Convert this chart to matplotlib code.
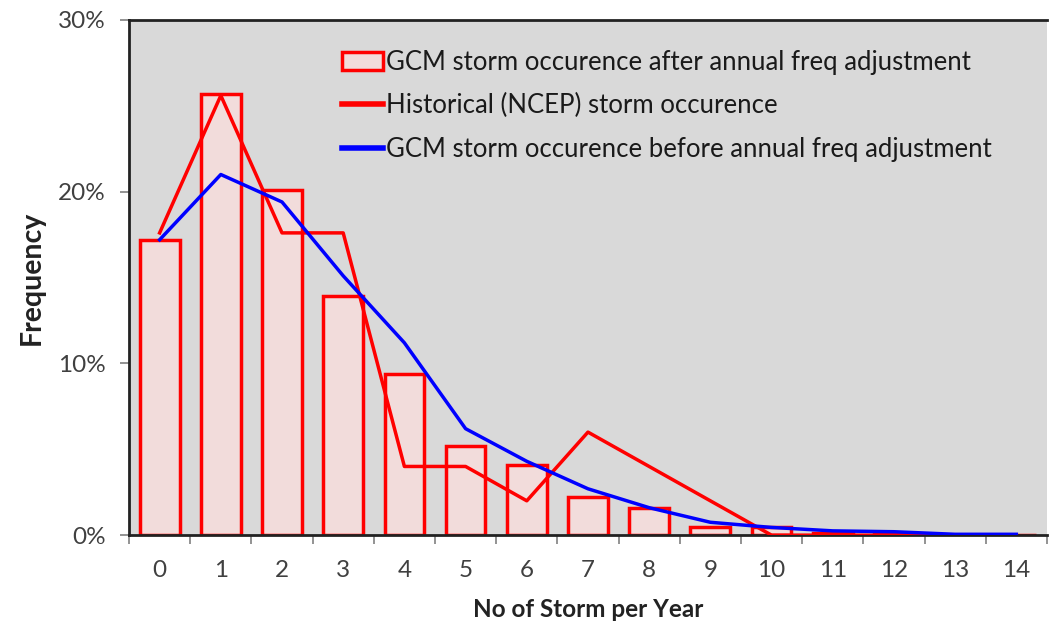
import matplotlib
matplotlib.use("Agg")
import matplotlib.pyplot as plt
from matplotlib.patches import Patch
from matplotlib.lines import Line2D
from matplotlib.ticker import FixedLocator, PercentFormatter

# storms per year
storms = list(range(15))
# GCM after annual freq adjustment (bars), %
gcm_after = [17.2, 25.7, 20.1, 13.9, 9.4, 5.2, 4.1, 2.2, 1.6, 0.45, 0.5, 0.1, 0.1, 0.0, 0.0]
# historical NCEP, %
ncep = [17.6, 25.6, 17.6, 17.6, 4.0, 4.0, 2.0, 6.0, 4.0, 2.0, 0.0, 0.0, 0.0, 0.0, 0.0]
# GCM before adjustment, %
gcm_before = [17.2, 21.0, 19.4, 15.1, 11.2, 6.2, 4.3, 2.7, 1.6, 0.75, 0.45, 0.25, 0.2, 0.05, 0.05]

plt.rcParams['font.family'] = ['Lato', 'DejaVu Sans']
txt = '#404040'

fig = plt.figure(figsize=(10.49, 6.23), dpi=100)
ax = fig.add_axes([0.123, 0.141, 0.875, 0.827])
ax.set_facecolor('#d9d9d9')

ax.bar(storms, gcm_after, width=0.65, color='#f2dcdb', edgecolor='#ff0000', linewidth=2.5, zorder=2)
ax.plot(storms, ncep, color='#ff0000', linewidth=2.5, zorder=3)
ax.plot(storms, gcm_before, color='#0000ff', linewidth=2.5, zorder=4)

ax.set_xlim(-0.5, 14.5)
ax.set_ylim(0, 30)
ax.set_xticks(storms)
ax.set_xticklabels([str(s) for s in storms], fontsize=17.5, color=txt)
ax.xaxis.set_minor_locator(FixedLocator([s - 0.5 for s in storms] + [14.5]))
ax.tick_params(axis='x', which='major', length=0, pad=18)
ax.tick_params(axis='x', which='minor', length=6.5, width=1.2, color='#808080')
ax.set_yticks([0, 10, 20, 30])
ax.yaxis.set_major_formatter(PercentFormatter(decimals=0))
ax.tick_params(axis='y', labelsize=17.5, labelcolor=txt, length=6.5, width=1.2, color='#808080', pad=10)

for side in ['left', 'bottom', 'top']:
    ax.spines[side].set_color('#222222')
    ax.spines[side].set_linewidth(2)
ax.spines['right'].set_visible(False)

ax.set_xlabel('No of Storm per Year', fontsize=17.5, fontweight='bold', color='#222222', labelpad=12)
ax.set_ylabel('Frequency', fontsize=20.5, fontweight='bold', color='#222222', labelpad=10)

handles = [
    Patch(facecolor='#f2dcdb', edgecolor='#ff0000', linewidth=2.5),
    Line2D([], [], color='#ff0000', linewidth=4),
    Line2D([], [], color='#0000ff', linewidth=4),
]
labels = [
    'GCM storm occurence after annual freq adjustment',
    'Historical (NCEP) storm occurence',
    'GCM storm occurence before annual freq adjustment',
]
ax.legend(handles, labels, loc='upper left', bbox_to_anchor=(0.207, 0.987), frameon=False,
          fontsize=18.5, handlelength=1.6, handleheight=0.73, handletextpad=0.1,
          labelspacing=0.72, labelcolor='#1a1a1a')

fig.savefig('out.png', dpi=100)
